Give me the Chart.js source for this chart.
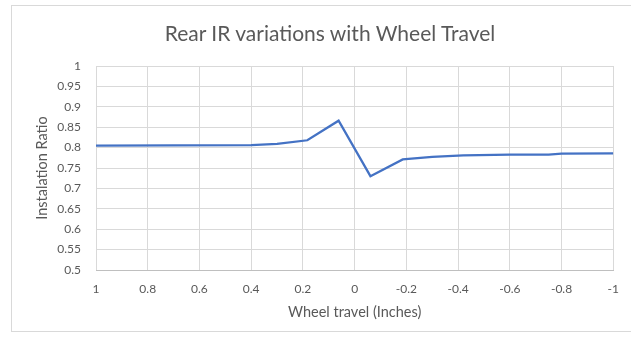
<!DOCTYPE html>
<html lang="en">
<head>
<meta charset="UTF-8" />
<title>Rear IR variations with Wheel Travel</title>
<style>
  html, body {
    margin: 0;
    padding: 0;
    background: #ffffff;
  }
  #frame {
    position: absolute;
    left: 11px;
    top: 5px;
    width: 640px;
    height: 327px;
    border: 1px solid #d9d9d9;
    box-sizing: border-box;
  }
  #wrap {
    position: absolute;
    left: 0;
    top: 0;
    width: 631px;
    height: 339px;
  }
  #chartTitle {
    position: absolute;
    left: 130px;
    width: 400px;
    top: 20px;
    text-align: center;
    font-family: Lato, "Liberation Sans", sans-serif;
    font-size: 21px;
    line-height: 26px;
    color: #595959;
    z-index: 2;
  }
</style>
</head>
<body>
<div id="frame"></div>
<div id="wrap">
  <canvas id="irChart" width="631" height="339"></canvas>
</div>
<div id="chartTitle">Rear IR variations with Wheel Travel</div>

<script src="https://cdn.jsdelivr.net/npm/chart.js"></script>
<script>
// wheel travel (inches) and matching installation ratio
const travel = [1, 0.4, 0.3, 0.183, 0.062, -0.061, -0.186, -0.3, -0.42, -0.6, -0.75, -0.8, -1];
const ratio  = [0.805, 0.806, 0.809, 0.818, 0.866, 0.730, 0.771, 0.777, 0.781, 0.783, 0.783, 0.785, 0.786];

const xTicks = [1, 0.8, 0.6, 0.4, 0.2, 0, -0.2, -0.4, -0.6, -0.8, -1];
const yTicks = [0.5, 0.55, 0.6, 0.65, 0.7, 0.75, 0.8, 0.85, 0.9, 0.95, 1];

const textColor = '#595959';
const gridColor = '#d9d9d9';
const fontFamily = 'Lato, "Liberation Sans", sans-serif';

const points = travel.map((t, i) => ({ x: t, y: ratio[i] }));

new Chart(document.getElementById('irChart'), {
  type: 'line',
  data: {
    datasets: [{
      label: 'Installation ratio',
      data: points,
      borderColor: '#4472C4',
      borderWidth: 2.25,
      pointRadius: 0,
      tension: 0,
      fill: false
    }]
  },
  options: {
    responsive: false,
    animation: false,
    layout: { padding: { left: 0, right: 10, top: 66, bottom: 0 } },
    plugins: {
      legend: { display: false },
      tooltip: { enabled: false },
      title: { display: false }
    },
    scales: {
      x: {
        type: 'linear',
        reverse: true,
        min: -1,
        max: 1,
        afterBuildTicks: s => { s.ticks = xTicks.map(v => ({ value: v })); },
        afterFit: s => { s.height = 69; },
        ticks: {
          color: textColor,
          font: { family: fontFamily, size: 12 },
          padding: 12,
          maxRotation: 0,
          autoSkip: false,
          callback: v => String(+v.toFixed(1))
        },
        grid: { color: gridColor, drawTicks: false },
        border: { color: '#bfbfbf' },
        title: {
          display: true,
          text: 'Wheel travel (Inches)',
          color: textColor,
          font: { family: fontFamily, size: 14.5 },
          padding: { top: 0, bottom: 18 }
        }
      },
      y: {
        min: 0.5,
        max: 1,
        afterBuildTicks: s => { s.ticks = yTicks.map(v => ({ value: v })); },
        afterFit: s => { s.width = 96; },
        ticks: {
          color: textColor,
          font: { family: fontFamily, size: 12 },
          padding: 15,
          autoSkip: false,
          callback: v => String(+v.toFixed(2))
        },
        grid: { color: gridColor, drawTicks: false },
        border: { display: false },
        title: {
          display: true,
          text: 'Instalation Ratio',
          color: textColor,
          font: { family: fontFamily, size: 14.5 },
          padding: { top: 34, bottom: 0 }
        }
      }
    }
  }
});
</script>
</body>
</html>
